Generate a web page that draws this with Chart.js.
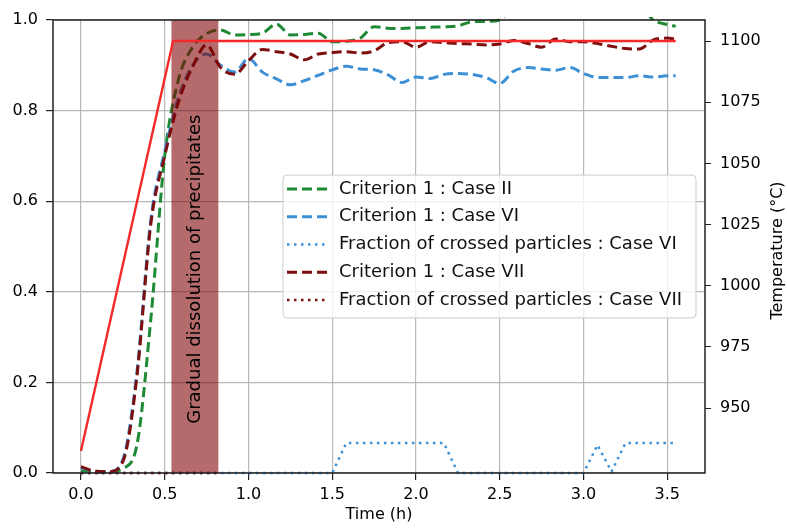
<!DOCTYPE html>
<html>
<head>
<meta charset="utf-8">
<script src="https://cdn.jsdelivr.net/npm/chart.js@4.4.1/dist/chart.umd.min.js"></script>
<style>
  html, body { margin: 0; padding: 0; background: #fff; }
  canvas { display: block; }
</style>
</head>
<body>
<canvas id="myChart" width="787" height="530"></canvas>
<script>
// DATA (time in hours, sampled every 5 min)
var timeH = [0, 0.083, 0.167, 0.25, 0.333, 0.417, 0.5, 0.583, 0.667, 0.75, 0.833, 0.917,
             1.0, 1.083, 1.167, 1.25, 1.333, 1.417, 1.5, 1.583, 1.667, 1.75, 1.833, 1.917,
             2.0, 2.083, 2.167, 2.25, 2.333, 2.417, 2.5, 2.583, 2.667, 2.75, 2.833, 2.917,
             3.0, 3.083, 3.167, 3.25, 3.333, 3.417, 3.5, 3.55];

var critCaseII = [0.005, 0.003, 0.002, 0.01, 0.06, 0.34, 0.70, 0.87, 0.94, 0.97, 0.978, 0.967,
                  0.968, 0.971, 0.991, 0.967, 0.968, 0.971, 0.952, 0.953, 0.96, 0.985, 0.982, 0.981,
                  0.983, 0.984, 0.985, 0.987, 0.996, 0.997, 1.0, 1.03, 1.03, 1.03, 1.03, 1.03,
                  1.03, 1.03, 1.03, 1.03, 1.03, 1.0, 0.99, 0.986];

var critCaseVI = [0.012, 0.004, 0.003, 0.03, 0.22, 0.56, 0.71, 0.83, 0.90, 0.925, 0.90, 0.885,
                  0.915, 0.885, 0.87, 0.857, 0.866, 0.878, 0.89, 0.898, 0.892, 0.89, 0.879, 0.862,
                  0.874, 0.871, 0.88, 0.882, 0.88, 0.873, 0.86, 0.887, 0.895, 0.892, 0.889, 0.895,
                  0.882, 0.873, 0.873, 0.873, 0.877, 0.874, 0.877, 0.877];

var fracCaseVI = [0, 0, 0, 0, 0, 0, 0, 0, 0, 0, 0, 0,
                  0, 0, 0, 0, 0, 0, 0, 0.066, 0.066, 0.066, 0.066, 0.066,
                  0.066, 0.066, 0.066, 0, 0, 0, 0, 0, 0, 0, 0, 0,
                  0, 0.062, 0.003, 0.066, 0.066, 0.066, 0.066, 0.066];

var critCaseVII = [0.014, 0.004, 0.003, 0.025, 0.21, 0.55, 0.70, 0.82, 0.897, 0.945, 0.895, 0.88,
                   0.91, 0.935, 0.93, 0.925, 0.912, 0.925, 0.928, 0.93, 0.927, 0.932, 0.95, 0.952,
                   0.94, 0.952, 0.95, 0.948, 0.947, 0.945, 0.947, 0.955, 0.948, 0.94, 0.958, 0.952,
                   0.952, 0.948, 0.942, 0.937, 0.936, 0.956, 0.96, 0.958];

var fracCaseVII = [0, 0, 0, 0, 0, 0, 0, 0, 0, 0, 0];

var tempTime = [0, 0.55, 3.55];
var tempValues = [932.5, 1100, 1100];

var xTicks = [0, 0.5, 1.0, 1.5, 2.0, 2.5, 3.0, 3.5];
var leftTicks = [0, 0.2, 0.4, 0.6, 0.8, 1.0];
var tempTicks = [950, 975, 1000, 1025, 1050, 1075, 1100];

var bandStart = 0.54, bandEnd = 0.82;
var bandLabel = 'Gradual dissolution of precipitates';

function pts(xs, ys) {
    return ys.map(function (v, i) { return { x: xs[i], y: v }; });
}

var FONT = '"DejaVu Sans", sans-serif';
Chart.defaults.font.family = FONT;
Chart.defaults.color = '#000';

// band + texts + frame + legend
var overlay = {
    id: 'overlay',
    beforeDatasetDraw: function (chart, args) {
        if (chart.data.datasets[args.index].yAxisID !== 'yT') return;
        var ctx = chart.ctx, a = chart.chartArea, xs = chart.scales.x;
        var x0 = xs.getPixelForValue(bandStart), x1 = xs.getPixelForValue(bandEnd);
        ctx.save();
        ctx.fillStyle = 'rgba(128, 0, 0, 0.58)';
        ctx.fillRect(x0, a.top, x1 - x0, a.bottom - a.top);
        ctx.restore();
    },
    afterDatasetsDraw: function (chart) {
        var ctx = chart.ctx, a = chart.chartArea, xs = chart.scales.x, ys = chart.scales.y;
        ctx.save();
        // text in band
        var cx = xs.getPixelForValue((bandStart + bandEnd) / 2), cy = ys.getPixelForValue(0.45);
        ctx.translate(cx, cy);
        ctx.rotate(-Math.PI / 2);
        ctx.font = '18px ' + FONT;
        ctx.fillStyle = '#000';
        ctx.textAlign = 'center';
        ctx.textBaseline = 'middle';
        ctx.fillText(bandLabel, 0, 0);
        ctx.restore();

        // frame
        ctx.save();
        ctx.strokeStyle = '#222';
        ctx.lineWidth = 1.5;
        ctx.strokeRect(a.left, a.top, a.right - a.left, a.bottom - a.top);
        ctx.restore();

        // legend (center right)
        var items = chart.data.datasets.filter(function (d) { return d.yAxisID === 'y'; });
        ctx.save();
        ctx.font = '18px ' + FONT;
        var maxW = 0;
        items.forEach(function (d) { maxW = Math.max(maxW, ctx.measureText(d.label).width); });
        var rowH = 27.7;
        var w = 56 + maxW + 14, h = rowH * (items.length - 1) + 32;
        var lx = a.right - 9 - w, ly = (a.top + a.bottom) / 2 - h / 2;
        ctx.fillStyle = 'rgba(255,255,255,0.8)';
        ctx.strokeStyle = '#cccccc';
        ctx.lineWidth = 1;
        ctx.beginPath();
        ctx.roundRect(lx, ly, w, h, 4);
        ctx.fill();
        ctx.stroke();
        items.forEach(function (d, k) {
            var ry = ly + 14 + k * rowH;
            ctx.strokeStyle = d.borderColor;
            ctx.lineWidth = d.borderWidth;
            ctx.setLineDash(d.borderDash);
            ctx.beginPath();
            ctx.moveTo(lx + 4, ry);
            ctx.lineTo(lx + 44, ry);
            ctx.stroke();
            ctx.setLineDash([]);
            ctx.fillStyle = '#111';
            ctx.textBaseline = 'middle';
            ctx.fillText(d.label, lx + 56, ry);
        });
        ctx.restore();

        // right axis title
        ctx.save();
        ctx.translate(778, (a.top + a.bottom) / 2 + 4);
        ctx.rotate(-Math.PI / 2);
        ctx.font = '16px ' + FONT;
        ctx.fillStyle = '#000';
        ctx.textAlign = 'center';
        ctx.textBaseline = 'middle';
        ctx.fillText('Temperature (°C)', 0, 0);
        ctx.restore();
    }
};

var ctx = document.getElementById('myChart').getContext('2d');
var myChart = new Chart(ctx, {
    type: 'line',
    data: {
        datasets: [{
            label: 'Criterion 1 : Case II',
            data: pts(timeH, critCaseII),
            yAxisID: 'y',
            borderColor: '#1f8a35',
            borderWidth: 3,
            borderDash: [10, 5],
            cubicInterpolationMode: 'monotone',
            order: 5
        }, {
            label: 'Criterion 1 : Case VI',
            data: pts(timeH, critCaseVI),
            yAxisID: 'y',
            borderColor: '#3d8fd6',
            borderWidth: 3,
            borderDash: [10, 5],
            cubicInterpolationMode: 'monotone',
            order: 4
        }, {
            label: 'Fraction of crossed particles : Case VI',
            data: pts(timeH, fracCaseVI),
            yAxisID: 'y',
            borderColor: '#3d8fd6',
            borderWidth: 2.5,
            borderDash: [2.5, 4.5],
            order: 3
        }, {
            label: 'Criterion 1 : Case VII',
            data: pts(timeH, critCaseVII),
            yAxisID: 'y',
            borderColor: '#7d0f0f',
            borderWidth: 3,
            borderDash: [10, 5],
            cubicInterpolationMode: 'monotone',
            order: 2
        }, {
            label: 'Fraction of crossed particles : Case VII',
            data: pts(timeH, fracCaseVII),
            yAxisID: 'y',
            borderColor: '#7d0f0f',
            borderWidth: 2.5,
            borderDash: [2.5, 4.5],
            order: 1
        }, {
            label: 'Temperature',
            data: pts(tempTime, tempValues),
            yAxisID: 'yT',
            borderColor: '#f42a2a',
            borderWidth: 2.4,
            borderDash: [],
            order: 0
        }]
    },
    options: {
        responsive: false,
        animation: false,
        layout: { padding: { top: 20, left: 0, right: 0, bottom: 0 } },
        elements: { point: { radius: 0 }, line: { tension: 0 } },
        datasets: { line: { clip: 3 } },
        plugins: { legend: { display: false }, tooltip: { enabled: false } },
        scales: {
            x: {
                type: 'linear',
                min: -0.167,
                max: 3.725,
                afterBuildTicks: function (s) { s.ticks = xTicks.map(function (v) { return { value: v }; }); },
                afterFit: function (s) { s.height = 57; },
                ticks: {
                    autoSkip: false, maxRotation: 0, padding: 5,
                    font: { size: 16 }, color: '#000',
                    callback: function (v) { return v.toFixed(1); }
                },
                grid: { color: '#b8b8b8', lineWidth: 1.2, tickColor: '#222', tickLength: 7 },
                border: { display: false },
                title: { display: true, text: 'Time (h)', font: { size: 16 }, color: '#000', padding: { top: 0, bottom: 6 } }
            },
            y: {
                position: 'left',
                min: 0,
                max: 1,
                afterBuildTicks: function (s) { s.ticks = leftTicks.map(function (v) { return { value: v }; }); },
                afterFit: function (s) { s.width = 53; },
                ticks: {
                    padding: 8, font: { size: 16 }, color: '#000',
                    callback: function (v) { return v.toFixed(1); }
                },
                grid: { color: '#b8b8b8', lineWidth: 1.2, tickColor: '#222', tickLength: 7 },
                border: { display: false }
            },
            yT: {
                position: 'right',
                min: 923.5,
                max: 1108.6,
                afterBuildTicks: function (s) { s.ticks = tempTicks.map(function (v) { return { value: v }; }); },
                afterFit: function (s) { s.width = 82; },
                ticks: {
                    padding: 9, font: { size: 16 }, color: '#000',
                    callback: function (v) { return String(v); }
                },
                grid: { drawOnChartArea: false, tickColor: '#222', tickLength: 6 },
                border: { display: false }
            }
        }
    },
    plugins: [overlay]
});
</script>
</body>
</html>
